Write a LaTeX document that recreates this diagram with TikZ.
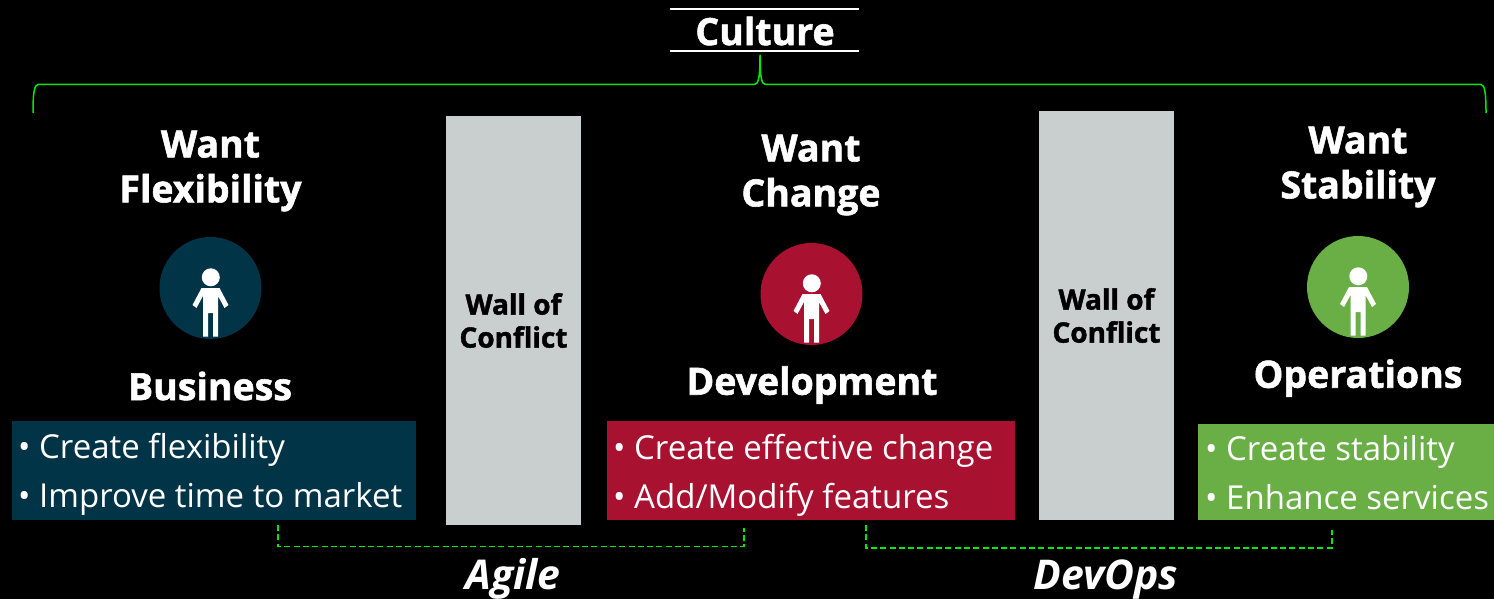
\documentclass[tikz,border=0pt]{standalone}
\usepackage{fontspec}
\setmainfont{Open Sans}[BoldFeatures={FakeBold=1.5}]
\usetikzlibrary{positioning}
\definecolor{navy}{RGB}{0, 52, 70}
\definecolor{crimson}{RGB}{169, 17, 48}
\definecolor{leaf}{RGB}{105, 175, 69}
\definecolor{wall}{RGB}{201, 207, 206}
\definecolor{neon}{RGB}{0, 235, 0}
\tikzset{
    x=1pt, y=-1pt,
    heading/.style={text=white, align=center, font=\fontsize{37.5}{45}\selectfont\bfseries, inner sep=0pt},
    slanted/.style={text=white, anchor=base, font=\fontsize{41}{48}\selectfont\bfseries\itshape, inner sep=0pt},
    dude/.style={circle, minimum size=102pt, inner sep=0pt},
    listbox/.style={text=white, align=left, anchor=north west, inner sep=0pt, font=\fontsize{33}{49}\selectfont},
    wallbox/.style={fill=wall, minimum width=135pt, text=black, align=center, inner sep=0pt, font=\fontsize{28}{33}\selectfont\bfseries},
    bracket/.style={neon, line width=1.8pt, dash pattern=on 6pt off 3.3pt},
    person/.pic={
        \fill[white] (0.3,-10.7) circle (9);
        \fill[white] (-9,0) -- (9,0) -- (18,17) -- (14,20) -- (7.5,8) -- (7.5,48.7) -- (2.5,48.7) -- (2.5,25) -- (-2.5,25) -- (-2.5,48.7) -- (-7.5,48.7) -- (-7.5,8) -- (-14,20) -- (-18,17) -- cycle;
    }
}
\begin{document}
\begin{tikzpicture}
    \useasboundingbox[fill=black] (0,0) rectangle (1494,599);
    % Title and brace
    \node[heading] (culture) at (765,31) {Culture};
    \draw[white, line width=2.5pt] (670,9) -- (859,9);
    \draw[white, line width=2.5pt] (670,51) -- (859,51);
    \draw[neon, line width=1.5pt] (33,113) .. controls (33,95) and (34,84.5) .. (38,84.5) -- (754,84.5)
         .. controls (758,84.5) and (760,80) .. (760,55) .. controls (760,80) and (762,84.5) .. (766,84.5)
         -- (1481,84.5) .. controls (1485,84.5) and (1486,95) .. (1486,113);
    % Business
    \node[heading] (wantbus) at (210.5,171) {Want\\Flexibility};
    \node[dude, fill=navy] (busdude) at (210.5,288) {};
    \pic at (busdude.center) {person};
    \node[heading] (busname) at (210,386) {Business};
    \fill[navy] (12,421) rectangle (416,520);
    \node[listbox] (buslist) at (18,433) {\textbullet\ Create flexibility\\\textbullet\ Improve time to market};
    % Development
    \node[heading] (wantdev) at (811,175) {Want\\Change};
    \node[dude, fill=crimson] (devdude) at (811.5,294) {};
    \pic at (devdude.center) {person};
    \node[heading] (devname) at (812,385) {Development};
    \fill[crimson] (607,421) rectangle (1015,520);
    \node[listbox] (devlist) at (613,434) {\textbullet\ Create effective change\\\textbullet\ Add/Modify features};
    % Operations
    \node[heading] (wantops) at (1358,167) {Want\\Stability};
    \node[dude, fill=leaf] (opsdude) at (1358,287) {};
    \pic at (opsdude.center) {person};
    \node[heading] (opsname) at (1358,378) {Operations};
    \fill[leaf] (1198,424) rectangle (1494,520);
    \node[listbox] (opslist) at (1205,435) {\textbullet\ Create stability\\\textbullet\ Enhance services};
    % Walls
    \node[wallbox, minimum height=409pt] (wallone) at (513.5,320.5) {Wall of\\Conflict};
    \node[wallbox, minimum height=409pt] (walltwo) at (1106.5,315.5) {Wall of\\Conflict};
    % Agile and DevOps
    \coordinate (agileleft) at (278,525);
    \coordinate (agileright) at (744,528);
    \coordinate (devopsleft) at (866,525);
    \coordinate (devopsright) at (1332,530);
    \draw[bracket] (agileleft) -- (278,546.5) -- (744,546.5) -- (agileright);
    \draw[bracket] (devopsleft) -- (866,548) -- (1332,548) -- (devopsright);
    \node[slanted] (agile) at (513,589) {Agile};
    \node[slanted] (devops) at (1106,589) {DevOps};
\end{tikzpicture}
\end{document}
